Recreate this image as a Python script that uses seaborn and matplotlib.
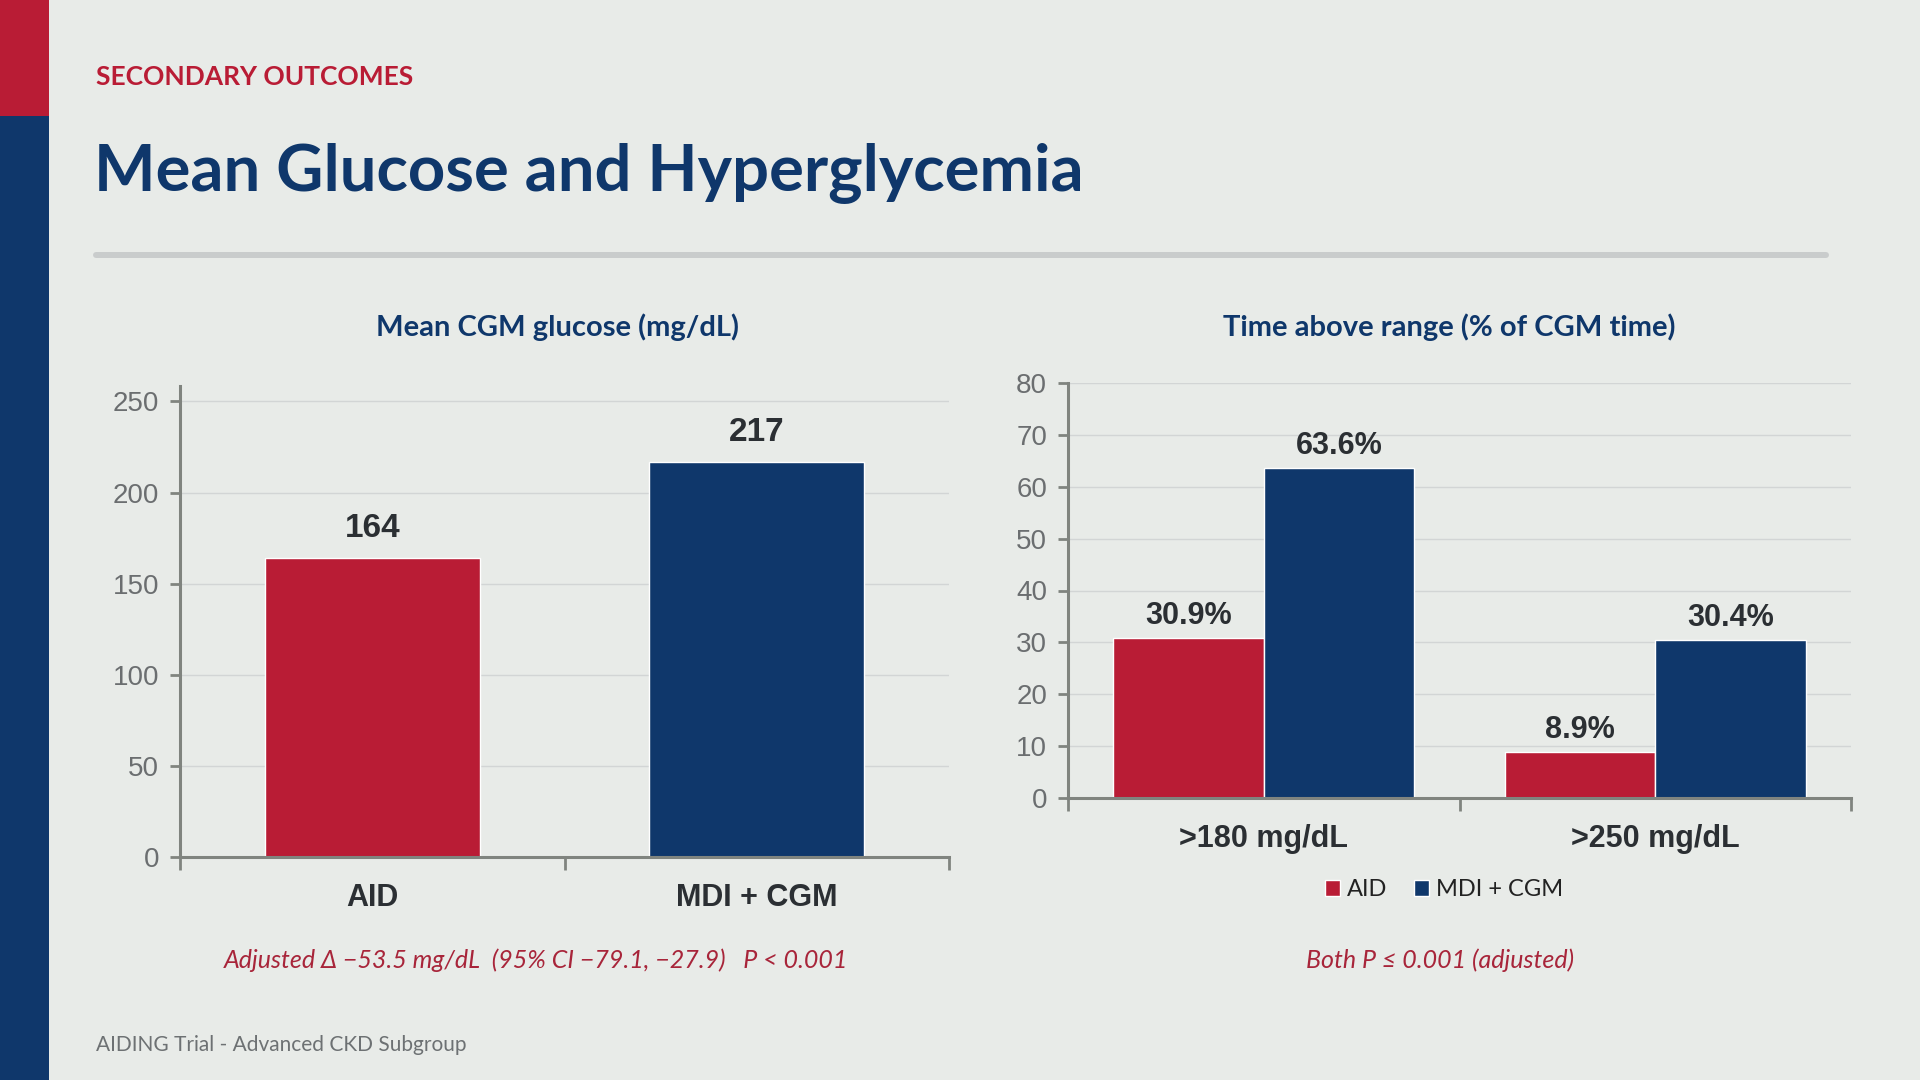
import matplotlib
matplotlib.use("Agg")
import matplotlib.pyplot as plt
from matplotlib.patches import Rectangle
from matplotlib.lines import Line2D
from matplotlib.ticker import FixedLocator
import seaborn as sns
import pandas as pd

# data
groups = ["AID", "MDI + CGM"]
mean_glucose = [164, 217]
tar_thresholds = [">180 mg/dL", ">250 mg/dL"]
tar_aid = [30.9, 8.9]
tar_mdi = [63.6, 30.4]

RED = "#b91c35"
NAVY = "#0f376b"
BG = "#e8ebe8"
GRAY = "#6b6e70"
SPINE = "#80847f"
DARK = "#2b2f33"

sns.set_theme(style="white")
plt.rcParams["font.family"] = ["Liberation Sans", "DejaVu Sans"]
HEAD = ["Lato", "DejaVu Sans"]

W, H = 1920, 1080
fig = plt.figure(figsize=(19.2, 10.8), dpi=100, facecolor=BG)


def fx(px):
    return px / W


def fy(py):
    return 1 - py / H


# side band
fig.add_artist(Rectangle((0, fy(116)), fx(49), 116 / H, transform=fig.transFigure, color=RED, lw=0))
fig.add_artist(Rectangle((0, 0), fx(49), fy(116), transform=fig.transFigure, color=NAVY, lw=0))

fig.text(fx(96), fy(77), "SECONDARY OUTCOMES", family=HEAD, fontsize=19, fontweight="bold",
         color=RED, va="center", ha="left")
fig.text(fx(94), fy(174), "Mean Glucose and Hyperglycemia", family=HEAD, fontsize=47,
         fontweight="bold", color=NAVY, va="center", ha="left")
fig.add_artist(Line2D([fx(96), fx(1826)], [fy(255), fy(255)], transform=fig.transFigure,
                      color="#c9cccc", lw=4.3))


def style_axis(ax, yticks, ylim):
    ax.set_facecolor(BG)
    ax.set_xlim(-0.5, 1.5)
    ax.set_ylim(*ylim)
    ax.set_yticks(yticks)
    for s in ["top", "right"]:
        ax.spines[s].set_visible(False)
    for s in ["left", "bottom"]:
        ax.spines[s].set_color(SPINE)
        ax.spines[s].set_linewidth(2.2)
    ax.yaxis.grid(True, color="#d2d5d5", lw=1)
    ax.set_axisbelow(True)
    ax.tick_params(axis="y", labelsize=20, labelcolor=GRAY, color=SPINE, length=7, width=2,
                   left=True, pad=8)
    ax.tick_params(axis="x", which="major", length=0, labelsize=22, labelcolor=DARK, pad=19)
    ax.xaxis.set_minor_locator(FixedLocator([-0.5, 0.5, 1.5]))
    ax.tick_params(axis="x", which="minor", bottom=True, length=9, width=2, color=SPINE)
    for lab in ax.get_xticklabels():
        lab.set_fontweight("bold")
    ax.set_xlabel("")
    ax.set_ylabel("")


# left panel
df1 = pd.DataFrame({"group": groups, "value": mean_glucose})
ax1 = fig.add_axes([fx(180), fy(857), (949 - 180) / W, (857 - 386) / H])
sns.barplot(data=df1, x="group", y="value", hue="group", palette=[RED, NAVY],
            width=0.56, legend=False, ax=ax1, saturation=1)
style_axis(ax1, range(0, 251, 50), (0, 258.5))
for c in ax1.containers:
    ax1.bar_label(c, fmt="{:.0f}", padding=10, fontsize=24, fontweight="bold", color=DARK)
fig.text(fx(557), fy(327), "Mean CGM glucose (mg/dL)", family=HEAD, fontsize=21,
         fontweight="bold", color=NAVY, ha="center", va="center")
fig.text(fx(536), fy(960), "Adjusted \u0394 \u221253.5 mg/dL  (95% CI \u221279.1, \u221227.9)   P < 0.001",
         family=HEAD, fontsize=18, style="italic", color="#a8253a", ha="center", va="center")

# right panel
df2 = pd.DataFrame({
    "threshold": tar_thresholds * 2,
    "arm": [groups[0]] * 2 + [groups[1]] * 2,
    "value": tar_aid + tar_mdi,
})
ax2 = fig.add_axes([fx(1068), fy(798), (1851 - 1068) / W, (798 - 383) / H])
sns.barplot(data=df2, x="threshold", y="value", hue="arm", palette=[RED, NAVY],
            width=0.77, ax=ax2, saturation=1)
style_axis(ax2, range(0, 81, 10), (0, 80))
for c in ax2.containers:
    ax2.bar_label(c, fmt="{:.1f}%", padding=5, fontsize=22, fontweight="bold", color=DARK)
handles, labels = ax2.get_legend_handles_labels()
ax2.legend(handles, labels, loc="center", bbox_to_anchor=(fx(1444), fy(890)),
           bbox_transform=fig.transFigure, ncol=2, frameon=False, handlelength=0.65,
           handleheight=0.65, handletextpad=0.3, columnspacing=1.1,
           labelcolor="#222222", prop={"family": HEAD, "size": 17})
fig.text(fx(1449), fy(327), "Time above range (% of CGM time)", family=HEAD, fontsize=21,
         fontweight="bold", color=NAVY, ha="center", va="center")
fig.text(fx(1440), fy(960), "Both P \u2264 0.001 (adjusted)", family=HEAD, fontsize=18,
         style="italic", color="#a8253a", ha="center", va="center")

fig.text(fx(96), fy(1045), "AIDING Trial - Advanced CKD Subgroup", family=HEAD, fontsize=15,
         color="#6d7173", ha="left", va="center")

fig.savefig("out.png", dpi=100, facecolor=BG)
